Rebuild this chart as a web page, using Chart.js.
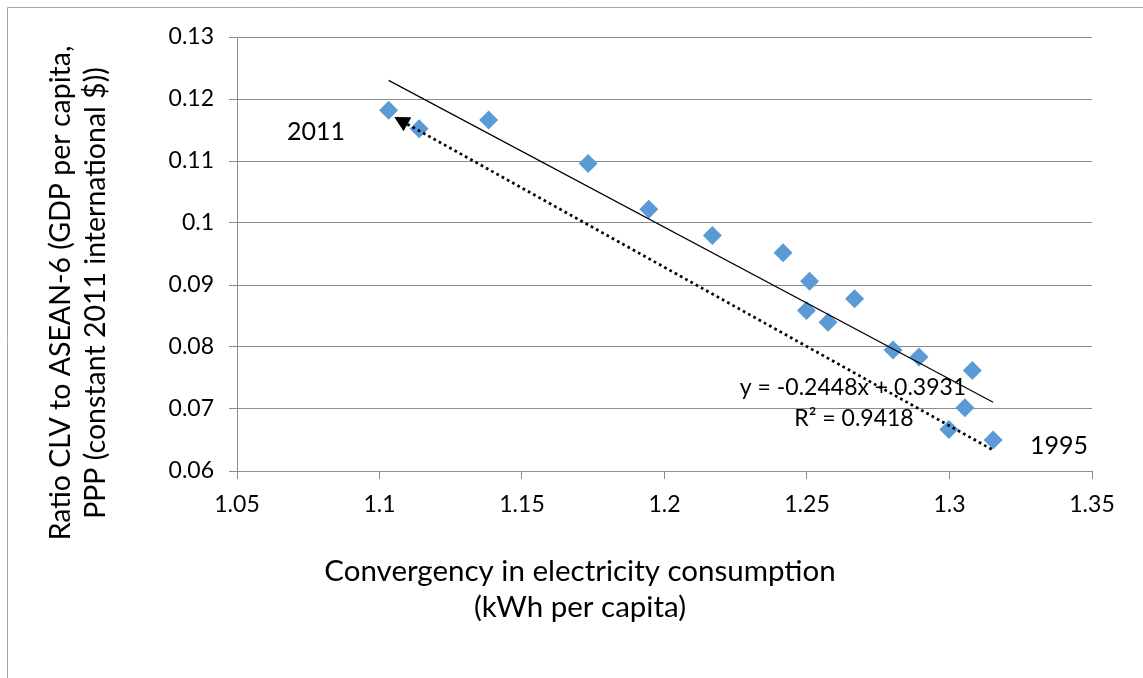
<!DOCTYPE html>
<html>
<head>
<meta charset="utf-8">
<script src="https://cdn.jsdelivr.net/npm/chart.js@4.4.1/dist/chart.umd.min.js"></script>
<style>
  html, body { margin: 0; padding: 0; background: #fff; }
  #wrap { width: 1143px; height: 678px; position: relative; }
</style>
</head>
<body>
<div id="wrap"><canvas id="myChart"></canvas></div>
<script>
// data
var elecConv = [1.1032, 1.1139, 1.1383, 1.1732, 1.1945, 1.2168, 1.2416, 1.2509, 1.2498,
                1.2574, 1.2667, 1.2802, 1.2893, 1.3080, 1.3054, 1.2998, 1.3153];
var gdpRatio = [0.1182, 0.1152, 0.1166, 0.1096, 0.1022, 0.0980, 0.0952, 0.0906, 0.0859,
                0.0840, 0.0878, 0.0795, 0.0784, 0.0762, 0.0702, 0.0667, 0.0650];
// linear trend line ends
var trendX = [1.1032, 1.3153];
var trendY = [0.1230, 0.0711];
// dotted arrow 1995 -> 2011
var arrowX = [1.3148, 1.1052];
var arrowY = [0.0635, 0.1171];
var xTicks = [1.05, 1.1, 1.15, 1.2, 1.25, 1.3, 1.35];
var yTicks = [0.06, 0.07, 0.08, 0.09, 0.1, 0.11, 0.12, 0.13];

var FONT = 'Lato, "Open Sans", sans-serif';
var GRID = '#8c8c8c';

function pts(xs, ys) {
  var out = [];
  for (var i = 0; i < xs.length; i++) out.push({ x: xs[i], y: ys[i] });
  return out;
}

var extras = {
  id: 'extras',
  beforeDraw: function(chart) {
    var ctx = chart.ctx;
    ctx.save();
    ctx.fillStyle = '#fff';
    ctx.fillRect(0, 0, chart.width, chart.height);
    // chart frame (only top and left edges visible)
    ctx.strokeStyle = '#a6a6a6';
    ctx.lineWidth = 1;
    ctx.beginPath();
    ctx.moveTo(7.5, chart.height);
    ctx.lineTo(7.5, 7.5);
    ctx.lineTo(chart.width, 7.5);
    ctx.stroke();
    ctx.restore();
  },
  afterDatasetsDraw: function(chart) {
    var ctx = chart.ctx;
    var xs = chart.scales.x, ys = chart.scales.y;
    ctx.save();
    // arrow head at the 2011 end
    var x0 = xs.getPixelForValue(arrowX[0]), y0 = ys.getPixelForValue(arrowY[0]);
    var x1 = xs.getPixelForValue(arrowX[1]), y1 = ys.getPixelForValue(arrowY[1]);
    var a = Math.atan2(y1 - y0, x1 - x0);
    var len = 15, half = 8;
    var bx = x1 - Math.cos(a) * len, by = y1 - Math.sin(a) * len;
    ctx.fillStyle = '#000';
    ctx.beginPath();
    ctx.moveTo(x1, y1);
    ctx.lineTo(bx + Math.sin(a) * half, by - Math.cos(a) * half);
    ctx.lineTo(bx - Math.sin(a) * half, by + Math.cos(a) * half);
    ctx.closePath();
    ctx.fill();

    ctx.fillStyle = '#000';
    ctx.textAlign = 'center';
    ctx.textBaseline = 'middle';
    ctx.font = '25px ' + FONT;
    ctx.fillText('2011', 316, 132);
    ctx.fillText('1995', 1059, 446);
    ctx.font = '23px ' + FONT;
    ctx.fillText('y = -0.2448x + 0.3931', 853, 388);
    ctx.fillText('R\u00b2 = 0.9418', 854, 419);

    // axis titles
    ctx.font = '29.5px ' + FONT;
    ctx.fillText('Convergency in electricity consumption', 580, 571);
    ctx.fillText('(kWh per capita)', 580, 607);
    ctx.save();
    ctx.translate(61, 293);
    ctx.rotate(-Math.PI / 2);
    ctx.font = '28.5px ' + FONT;
    ctx.fillText('Ratio CLV to ASEAN-6 (GDP per capita,', 0, 0);
    ctx.fillText('PPP (constant 2011 international $))', 0, 35);
    ctx.restore();
    ctx.restore();
  }
};

var ctx = document.getElementById('myChart').getContext('2d');
var myChart = new Chart(ctx, {
  type: 'scatter',
  data: {
    datasets: [{
      label: 'Ratio',
      data: pts(elecConv, gdpRatio),
      pointStyle: 'rectRot',
      pointRadius: 9.5,
      pointHoverRadius: 9.5,
      backgroundColor: '#5b9bd5',
      borderWidth: 0,
      order: 3
    }, {
      type: 'line',
      label: 'Trend',
      data: pts(trendX, trendY),
      borderColor: '#000',
      borderWidth: 1.2,
      pointRadius: 0,
      fill: false,
      order: 1
    }, {
      type: 'line',
      label: 'Arrow',
      data: pts(arrowX, arrowY),
      borderColor: '#000',
      borderWidth: 2.7,
      borderDash: [2.7, 3.3],
      pointRadius: 0,
      fill: false,
      order: 2
    }]
  },
  options: {
    responsive: true,
    maintainAspectRatio: false,
    animation: false,
    events: [],
    layout: { padding: { top: 37, right: 51, left: 0, bottom: 0 } },
    plugins: { legend: { display: false }, tooltip: { enabled: false } },
    scales: {
      x: {
        type: 'linear',
        min: 1.05,
        max: 1.35,
        afterBuildTicks: function(s) { s.ticks = xTicks.map(function(v) { return { value: v }; }); },
        afterFit: function(s) { s.height = 207; },
        grid: { drawOnChartArea: false, drawTicks: true, tickLength: 8, color: GRID },
        border: { color: GRID, width: 1 },
        ticks: {
          color: '#000',
          font: { family: FONT, size: 23 },
          padding: 12,
          maxRotation: 0,
          callback: function(v) { return String(+v.toFixed(2)); }
        }
      },
      y: {
        type: 'linear',
        min: 0.06,
        max: 0.13,
        afterBuildTicks: function(s) { s.ticks = yTicks.map(function(v) { return { value: v }; }); },
        afterFit: function(s) { s.width = 237; },
        grid: { color: GRID, tickLength: 8 },
        border: { color: GRID, width: 1 },
        ticks: {
          color: '#000',
          font: { family: FONT, size: 23 },
          padding: 15,
          callback: function(v) { return String(+v.toFixed(2)); }
        }
      }
    }
  },
  plugins: [extras]
});
</script>
</body>
</html>
